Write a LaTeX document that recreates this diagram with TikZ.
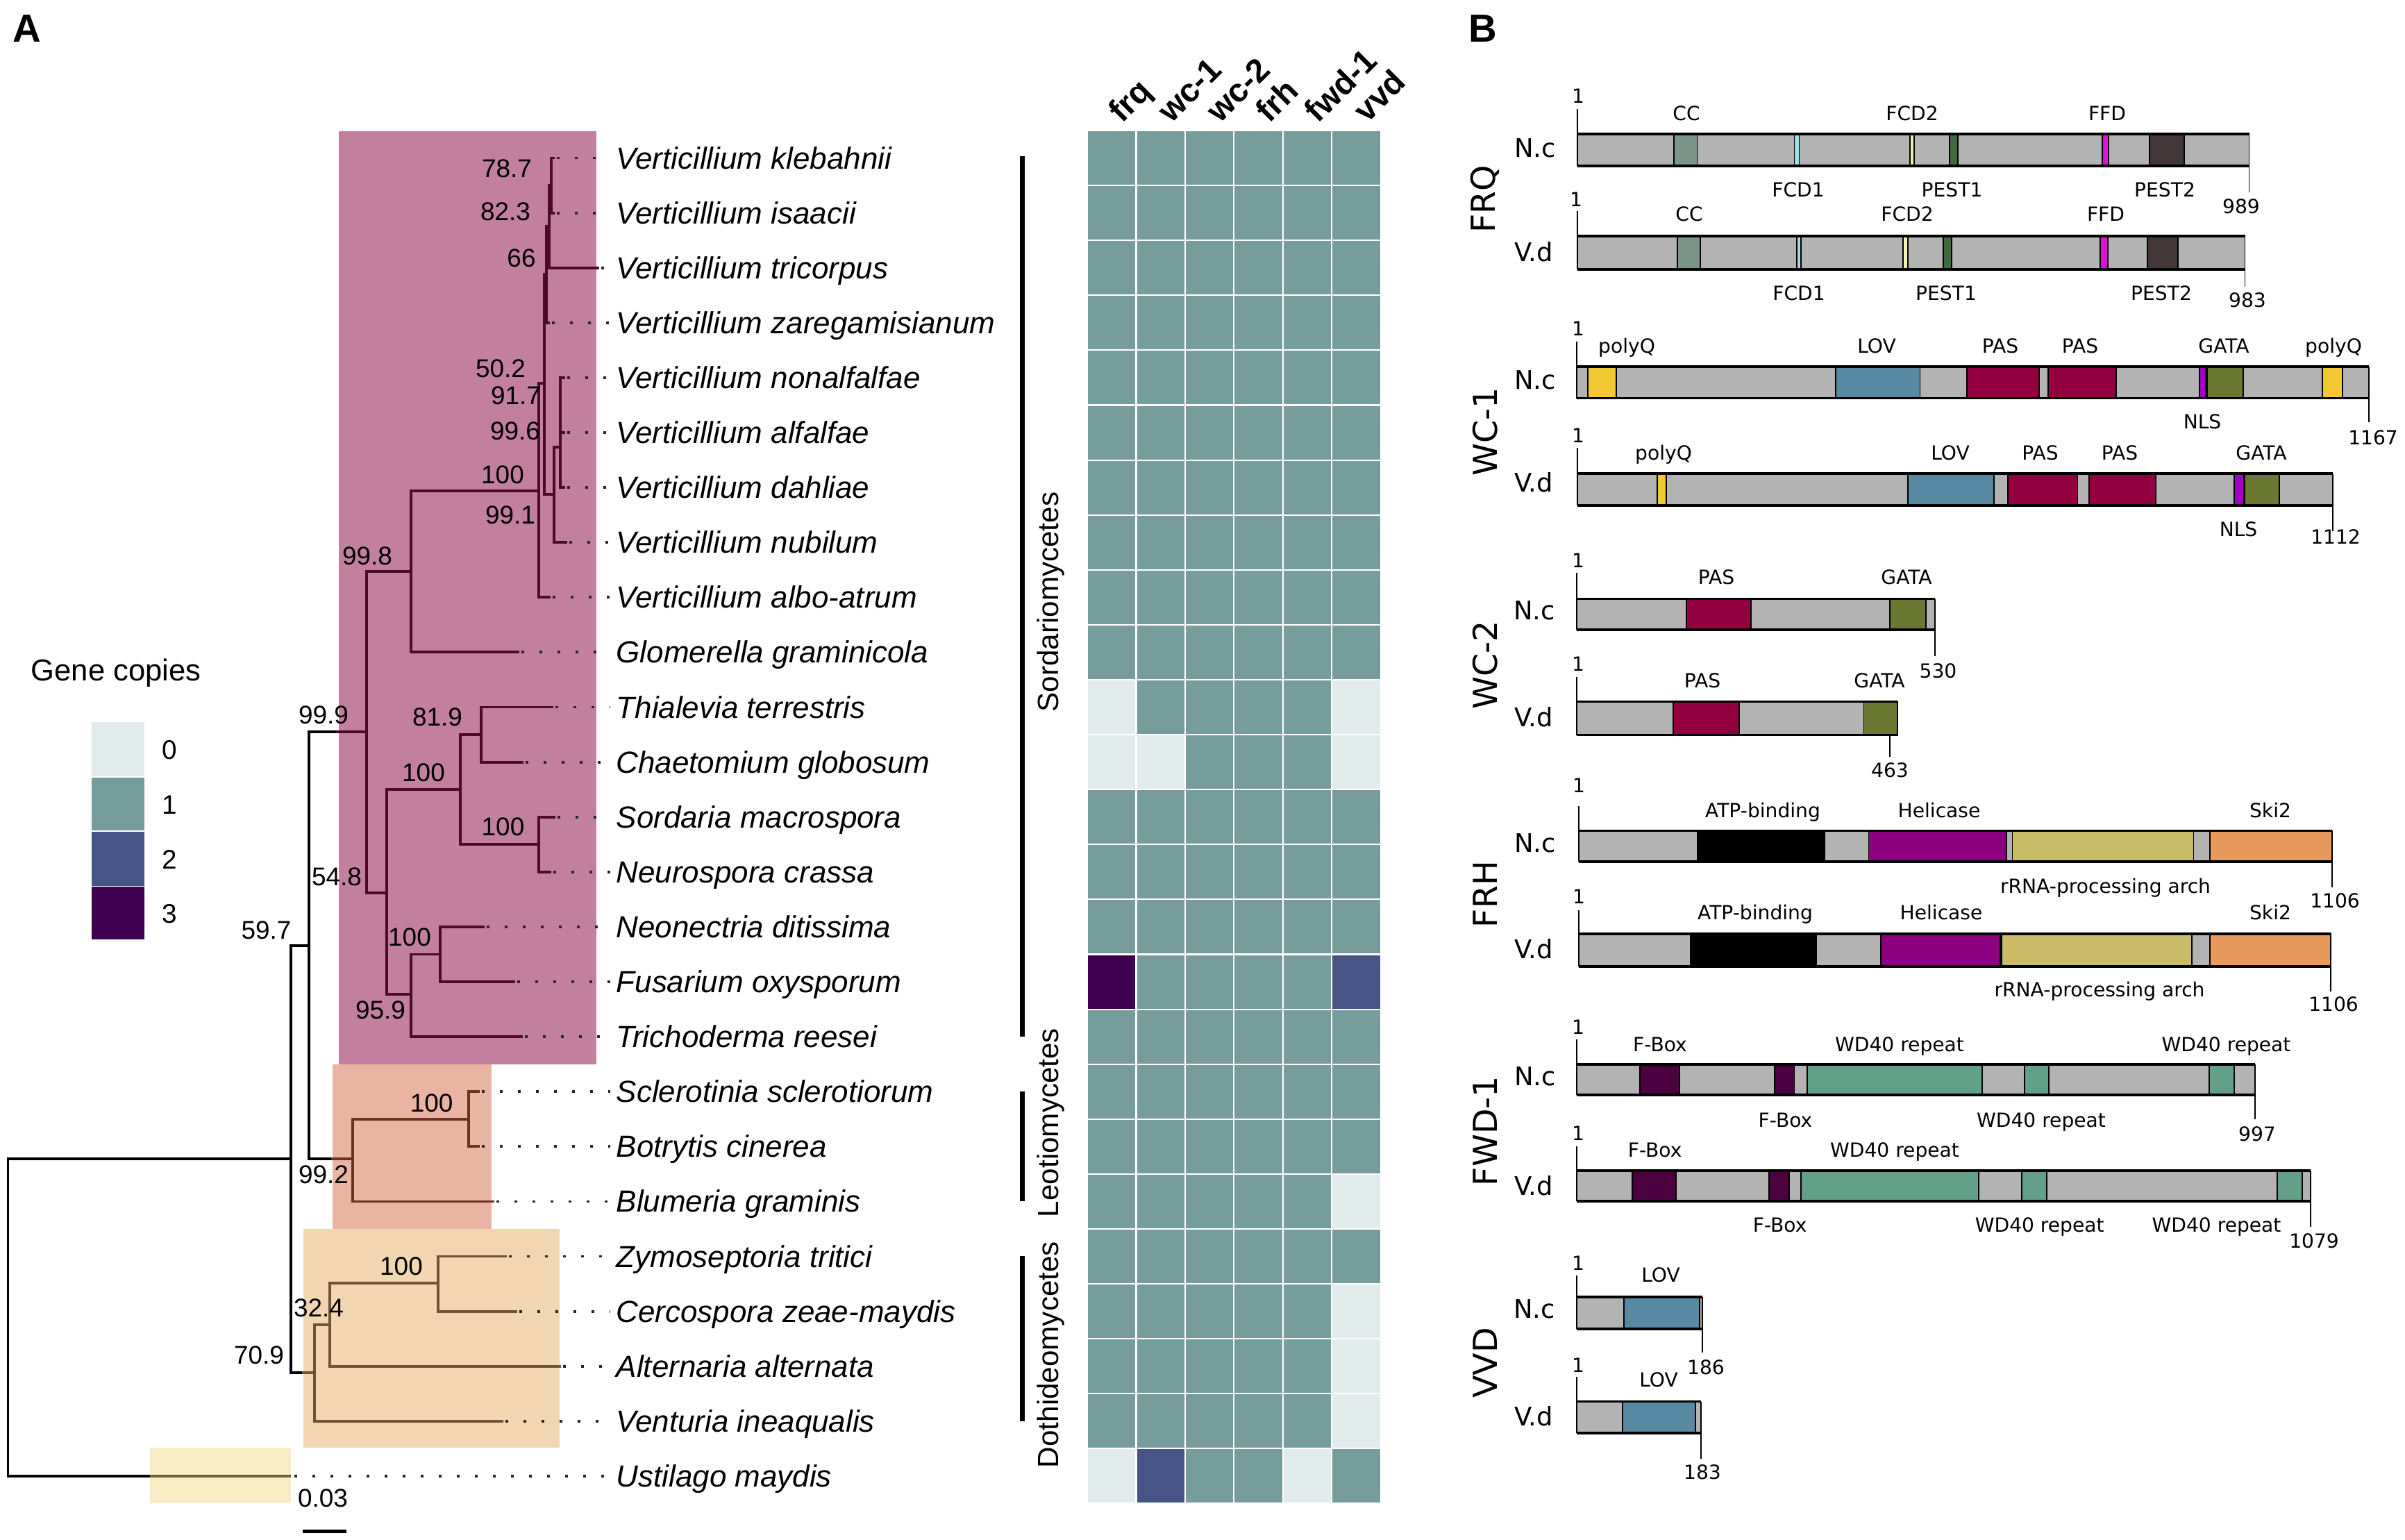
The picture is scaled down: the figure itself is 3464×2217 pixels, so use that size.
\documentclass[tikz,border=0pt]{standalone}
\usepackage{fontspec}
\setmainfont{Liberation Sans}
\newfontfamily\djv{DejaVu Sans}
\definecolor{pinkbox}{HTML}{C27F9E}
\definecolor{salmonbox}{HTML}{E9B5A2}
\definecolor{tanbox}{HTML}{F2D5B1}
\definecolor{yellowbox}{HTML}{FAEDC6}
\definecolor{csord}{HTML}{4B0A2A}
\definecolor{cleot}{HTML}{6B3222}
\definecolor{cdoth}{HTML}{6E5434}
\definecolor{custi}{HTML}{6E6232}
\definecolor{hm0}{HTML}{E3ECEC}
\definecolor{hm1}{HTML}{769D9C}
\definecolor{hm2}{HTML}{465486}
\definecolor{hm3}{HTML}{3E004F}
\definecolor{bargrey}{HTML}{B3B3B3}
\definecolor{dCC}{HTML}{7B958A}
\definecolor{dFCDa}{HTML}{9FDDE6}
\definecolor{dFCDb}{HTML}{EEF0B0}
\definecolor{dPESTa}{HTML}{3F6B3E}
\definecolor{dFFD}{HTML}{E010D8}
\definecolor{dPESTb}{HTML}{423639}
\definecolor{dQ}{HTML}{F2C833}
\definecolor{dLOV}{HTML}{5889A2}
\definecolor{dPAS}{HTML}{93003F}
\definecolor{dNLS}{HTML}{A300C8}
\definecolor{dGATA}{HTML}{6B7832}
\definecolor{dATP}{HTML}{000000}
\definecolor{dHel}{HTML}{8C007F}
\definecolor{dRNA}{HTML}{CABB68}
\definecolor{dSki}{HTML}{E89A5C}
\definecolor{dFB}{HTML}{4B0040}
\definecolor{dWD}{HTML}{62A089}
\newcounter{lbl}
\newcommand\plab[3]{\stepcounter{lbl}\node[plabel] (p\arabic{lbl}) at ({#1},{#2+10}) {#3};}
\newcommand\bnum[3]{\stepcounter{lbl}\node[bootlab] (b\arabic{lbl}) at ({#1},{#2+13}) {#3};}
\newcommand\orgl[3]{\stepcounter{lbl}\node[orglab] (o\arabic{lbl}) at ({#1},{#2+13.5}) {#3};}
\newcommand\protein[5]{%
 \fill[bargrey] ({#1},{#3}) rectangle ({#2},{#4});
 \foreach \da/\db/\dcol in {#5} {\filldraw[dombox,fill=\dcol] (\da,#3) rectangle (\db,#4);}
 \draw[thinedge] ({#1},{#3}) -- ({#1},{#4}) ({#2},{#3}) -- ({#2},{#4});
 \draw[thickedge] ({#1},{#3}) -- ({#2},{#3}) ({#1},{#4}) -- ({#2},{#4});
}
\begin{document}
\begin{tikzpicture}[x=0.01cm,y=-0.01cm,
  tk/.style={line width=1.1pt,line cap=rect,black},
  ts/.style={line width=1.1pt,line cap=rect,csord},
  tl/.style={line width=1.1pt,line cap=rect,cleot},
  td/.style={line width=1.1pt,line cap=rect,cdoth},
  dotline/.style={line width=1.1pt,black!85,dash pattern=on 1.1pt off 6.3pt},
  taxon/.style={anchor=base west,inner sep=0,font=\fontsize{12.5}{15}\selectfont\itshape},
  bootlab/.style={anchor=base,inner sep=0,font=\fontsize{10.5}{12}\selectfont},
  collab/.style={anchor=base west,inner sep=0,rotate=45,font=\fontsize{13.5}{16}\selectfont\bfseries},
  classlab/.style={rotate=90,inner sep=0,font=\fontsize{12}{14}\selectfont},
  plabel/.style={anchor=base,inner sep=0,font=\djv\fontsize{8}{9.6}\selectfont},
  orglab/.style={anchor=base,inner sep=0,font=\djv\fontsize{10.5}{12}\selectfont},
  grplab/.style={rotate=90,inner sep=0,font=\djv\fontsize{13.5}{16}\selectfont},
  dombox/.style={draw=black,line width=0.5pt},
  thinedge/.style={draw=black,line width=0.5pt},
  thickedge/.style={draw=black,line width=0.9pt},
  tickl/.style={draw=black,line width=0.5pt},
  panel/.style={inner sep=0,font=\fontsize{16}{18}\selectfont\bfseries}]
\useasboundingbox (0,0) rectangle (3464,2217);

% panel letters
\node[panel] (pA) at (39,41) {A};
\node[panel] (pB) at (2136,41) {B};

% clade boxes
\fill[pinkbox] (488,189) rectangle (859,1533);
\fill[salmonbox] (479,1533) rectangle (708,1770);
\fill[tanbox] (437,1770) rectangle (806,2085);
\fill[yellowbox] (216,2085) rectangle (419,2165);

% dotted leaders
\foreach \i/\t in {0/797,1/797,2/861,3/790,4/812,5/812,6/812,7/815,8/791,9/746,10/795,11/752,12/798,13/792,14/696,15/740,16/751,17/689,18/689,19/710,20/728,21/743,22/806,23/723,24/419}
  \draw[dotline] ({\t+5},{227.5+79.1*\i}) -- (879,{227.5+79.1*\i});

% backbone (black)
\draw[tk] (11.5,1669) -- (11.5,2125.9);
\draw[tk] (11.5,1669) -- (419,1669);
\draw[tk] (11.5,2125.9) -- (216,2125.9);
\draw[line width=1.1pt,custi] (216,2125.9) -- (419,2125.9);
\draw[tk] (419,1362) -- (419,1977);
\draw[tk] (419,1362) -- (445,1362);
\draw[tk] (445,1054) -- (445,1669);
\draw[tk] (445,1054) -- (488,1054);
\draw[tk] (445,1669) -- (479,1669);
\draw[tk] (419,1977) -- (437,1977);

% Sordariomycetes
\draw[ts] (486,1054) -- (528,1054);
\draw[ts] (528,823) -- (528,1286);
\draw[ts] (528,823) -- (592,823);
\draw[ts] (592,707) -- (592,939.4);
\draw[ts] (592,707) -- (776,707);
\draw[ts] (776,552) -- (776,860.3);
\draw[ts] (776,552) -- (784,552);
\draw[ts] (784,395) -- (784,712);
\draw[ts] (784,395) -- (787,395);
\draw[ts] (787,326) -- (787,464.8);
\draw[ts] (787,326) -- (791,326);
\draw[ts] (791,267) -- (791,385.7);
\draw[ts] (791,267) -- (794,267);
\draw[ts] (794,227.5) -- (794,306.6);
\draw[ts] (794,227.5) -- (797,227.5);
\draw[ts] (794,306.6) -- (797,306.6);
\draw[ts] (791,385.7) -- (861,385.7);
\draw[ts] (787,464.8) -- (790,464.8);
\draw[ts] (784,712) -- (798,712);
\draw[ts] (798,644) -- (798,781.2);
\draw[ts] (798,644) -- (807,644);
\draw[ts] (807,543.9) -- (807,702.1);
\draw[ts] (807,543.9) -- (812,543.9);
\draw[ts] (807,623) -- (812,623);
\draw[ts] (807,702.1) -- (812,702.1);
\draw[ts] (798,781.2) -- (815,781.2);
\draw[ts] (776,860.3) -- (791,860.3);
\draw[ts] (592,939.4) -- (746,939.4);
\draw[ts] (528,1286) -- (557,1286);
\draw[ts] (557,1137) -- (557,1432);
\draw[ts] (557,1137) -- (663,1137);
\draw[ts] (663,1058) -- (663,1216);
\draw[ts] (663,1058) -- (693,1058);
\draw[ts] (693,1018.5) -- (693,1097.6);
\draw[ts] (693,1018.5) -- (795,1018.5);
\draw[ts] (693,1097.6) -- (752,1097.6);
\draw[ts] (663,1216) -- (776,1216);
\draw[ts] (776,1176.7) -- (776,1255.8);
\draw[ts] (776,1176.7) -- (798,1176.7);
\draw[ts] (776,1255.8) -- (792,1255.8);
\draw[ts] (557,1432) -- (592,1432);
\draw[ts] (592,1374.5) -- (592,1493.1);
\draw[ts] (592,1374.5) -- (634,1374.5);
\draw[ts] (634,1334.9) -- (634,1414);
\draw[ts] (634,1334.9) -- (696,1334.9);
\draw[ts] (634,1414) -- (740,1414);
\draw[ts] (592,1493.1) -- (751,1493.1);

% Leotiomycetes
\draw[tl] (479,1669) -- (508,1669);
\draw[tl] (508,1612) -- (508,1730.4);
\draw[tl] (508,1612) -- (675,1612);
\draw[tl] (675,1572.2) -- (675,1651.3);
\draw[tl] (675,1572.2) -- (689,1572.2);
\draw[tl] (675,1651.3) -- (689,1651.3);
\draw[tl] (508,1730.4) -- (710,1730.4);

% Dothideomycetes
\draw[td] (437,1977) -- (453,1977);
\draw[td] (453,1908) -- (453,2046.8);
\draw[td] (453,1908) -- (475,1908);
\draw[td] (475,1848) -- (475,1967.7);
\draw[td] (475,1848) -- (631,1848);
\draw[td] (631,1809.5) -- (631,1888.6);
\draw[td] (631,1809.5) -- (728,1809.5);
\draw[td] (631,1888.6) -- (743,1888.6);
\draw[td] (475,1967.7) -- (806,1967.7);
\draw[td] (453,2046.8) -- (723,2046.8);

% bootstrap values
\bnum{730}{242}{78.7}
\bnum{728}{304}{82.3}
\bnum{751}{371}{66}
\bnum{721}{530}{50.2}
\bnum{743}{569}{91.7}
\bnum{742}{620}{99.6}
\bnum{724}{683}{100}
\bnum{735}{741}{99.1}
\bnum{529}{800}{99.8}
\bnum{466}{1029.5}{99.9}
\bnum{630}{1032.6}{81.9}
\bnum{610}{1112.6}{100}
\bnum{724.5}{1190}{100}
\bnum{485}{1262}{54.8}
\bnum{383.5}{1339}{59.7}
\bnum{590}{1349}{100}
\bnum{548}{1454}{95.9}
\bnum{621.7}{1588}{100}
\bnum{466}{1691}{99.2}
\bnum{578}{1823}{100}
\bnum{459}{1883}{32.4}
\bnum{373}{1951}{70.9}
\bnum{465}{2157}{0.03}
\draw[line width=1.4pt] (436,2205) -- (499,2205);

% taxa
\foreach \i/\nm in {0/Verticillium klebahnii,1/Verticillium isaacii,2/Verticillium tricorpus,3/Verticillium zaregamisianum,4/Verticillium nonalfalfae,5/Verticillium alfalfae,6/Verticillium dahliae,7/Verticillium nubilum,8/Verticillium albo-atrum,9/Glomerella graminicola,10/Thialevia terrestris,11/Chaetomium globosum,12/Sordaria macrospora,13/Neurospora crassa,14/Neonectria ditissima,15/Fusarium oxysporum,16/Trichoderma reesei,17/Sclerotinia sclerotiorum,18/Botrytis cinerea,19/Blumeria graminis,20/Zymoseptoria tritici,21/Cercospora zeae-maydis,22/Alternaria alternata,23/Venturia ineaqualis,24/Ustilago maydis}
  \node[taxon] (t\i) at (887,{227.5+79.1*\i+15.5}) {\nm};

% legend
\node[anchor=base west,inner sep=0,font=\fontsize{12.4}{15}\selectfont] (leg) at (44,980) {Gene copies};
\foreach \v/\ya/\yb in {0/1040/1118,1/1120/1196,2/1198/1276,3/1277/1353}{
  \fill[hm\v] (132,\ya) rectangle (208,\yb);
  \node[anchor=base,inner sep=0,font=\fontsize{11}{13}\selectfont] (lg\v) at (244,{(\ya+\yb)/2+14}) {\v};
}

% class bars
\draw[line width=2pt] (1472,225) -- (1472,1493);
\draw[line width=2pt] (1472,1572) -- (1472,1730);
\draw[line width=2pt] (1472,1809) -- (1472,2047);
\node[classlab] (cS) at (1514,867) {Sordariomycetes};
\node[classlab] (cL) at (1514,1617) {Leotiomycetes};
\node[classlab] (cD) at (1514,1951) {Dothideomycetes};

% heatmap
\foreach \r/\va/\vb/\vc/\vd/\ve/\vf in {0/1/1/1/1/1/1,1/1/1/1/1/1/1,2/1/1/1/1/1/1,3/1/1/1/1/1/1,4/1/1/1/1/1/1,5/1/1/1/1/1/1,6/1/1/1/1/1/1,7/1/1/1/1/1/1,8/1/1/1/1/1/1,9/1/1/1/1/1/1,10/0/1/1/1/1/0,11/0/0/1/1/1/0,12/1/1/1/1/1/1,13/1/1/1/1/1/1,14/1/1/1/1/1/1,15/3/1/1/1/1/2,16/1/1/1/1/1/1,17/1/1/1/1/1/1,18/1/1/1/1/1/1,19/1/1/1/1/1/0,20/1/1/1/1/1/1,21/1/1/1/1/1/0,22/1/1/1/1/1/0,23/1/1/1/1/1/0,24/0/2/1/1/0/1}{
  \foreach \v [count=\k from 0] in {\va,\vb,\vc,\vd,\ve,\vf}{
    \filldraw[fill=hm\v,draw=white,line width=0.6pt] ({1566+70.47*\k},{188+79.1*\r}) rectangle ++(70.47,79.1);
  }
}
\foreach \k/\g in {0/frq,1/wc-1,2/wc-2,3/frh,4/fwd-1,5/vvd}
  \node[collab] (g\k) at ({1616+70.6*\k},179) {\g};

% ===== Panel B =====
\node[grplab] (gFRQ) at (2139,287) {FRQ};
\node[grplab] (gWC1) at (2139,622) {WC-1};
\node[grplab] (gWC2) at (2139,958) {WC-2};
\node[grplab] (gFRH) at (2139,1288) {FRH};
\node[grplab] (gFWD) at (2139,1629) {FWD-1};
\node[grplab] (gVVD) at (2139,1963) {VVD};

% FRQ
\orgl{2211}{213}{N.c}
\draw[tickl] (2272,157) -- (2272,193);
\draw[tickl] (3239.5,239) -- (3239.5,277);
\protein{2272}{3239.5}{193}{239}{2411/2444.5/dCC,2584.5/2591.5/dFCDa,2750.6/2756.7/dFCDb,2808/2820/dPESTa,3028/3037/dFFD,3096/3145.6/dPESTb}
\plab{2273}{138}{1}
\plab{2429}{163}{CC}
\plab{2754}{163}{FCD2}
\plab{3035}{163}{FFD}
\plab{2590}{273}{FCD1}
\plab{2811.5}{273}{PEST1}
\plab{3118}{273}{PEST2}
\plab{3228}{297}{989}

\orgl{2209}{363}{V.d}
\draw[tickl] (2272,304) -- (2272,340);
\draw[tickl] (3233.5,388) -- (3233.5,413);
\protein{2272}{3233.5}{340}{388}{2416/2449/dCC,2588/2594/dFCDa,2741/2748/dFCDb,2799/2811/dPESTa,3025/3036/dFFD,3093/3137/dPESTb}
\plab{2270}{287}{1}
\plab{2433}{308}{CC}
\plab{2747}{308}{FCD2}
\plab{3033}{308}{FFD}
\plab{2591}{422}{FCD1}
\plab{2803}{422}{PEST1}
\plab{3113}{422}{PEST2}
\plab{3237}{432}{983}

% WC-1
\orgl{2211}{547}{N.c}
\draw[tickl] (2271,491.5) -- (2271,528);
\draw[tickl] (3412,573.5) -- (3412,607.5);
\protein{2271}{3412}{528}{573.5}{2287/2328/dQ,2644/2765.5/dLOV,2833/2937/dPAS,2950/3048/dPAS,3168/3177/dNLS,3179/3231/dGATA,3345/3374/dQ}
\plab{2273}{473}{1}
\plab{2343}{498}{polyQ}
\plab{2703}{498}{LOV}
\plab{2881}{498}{PAS}
\plab{2996}{498}{PAS}
\plab{3203}{498}{GATA}
\plab{3361}{498}{polyQ}
\plab{3172}{607.5}{NLS}
\plab{3418}{630}{1167}

\orgl{2209}{694.6}{V.d}
\draw[tickl] (2272,645) -- (2272,682);
\draw[tickl] (3360,728) -- (3360,765);
\protein{2272}{3360}{682}{728}{2387/2400/dQ,2748/2872/dLOV,2891.6/2992.5/dPAS,3009/3104.7/dPAS,3218/3232/dNLS,3232.6/3283/dGATA}
\plab{2273}{627}{1}
\plab{2396}{652}{polyQ}
\plab{2809}{652}{LOV}
\plab{2938.5}{652}{PAS}
\plab{3053}{652}{PAS}
\plab{3257}{652}{GATA}
\plab{3224}{762}{NLS}
\plab{3364}{773}{1112}

% WC-2
\orgl{2210}{879}{N.c}
\draw[tickl] (2271,825) -- (2271,862.5);
\draw[tickl] (2787,907) -- (2787,945);
\protein{2271}{2787}{862.5}{907}{2429/2522/dPAS,2722/2774/dGATA}
\plab{2273}{807}{1}
\plab{2472}{831}{PAS}
\plab{2746}{831}{GATA}
\plab{2791.5}{966}{530}

\orgl{2209}{1032.5}{V.d}
\draw[tickl] (2271,974.5) -- (2271,1010.5);
\draw[tickl] (2722,1058.6) -- (2722,1090);
\protein{2271}{2733}{1010.5}{1058.6}{2410/2505/dPAS,2684.5/2733/dGATA}
\plab{2273}{956.6}{1}
\plab{2452}{980}{PAS}
\plab{2707}{980}{GATA}
\plab{2722}{1109.6}{463}

% FRH
\orgl{2211}{1214.4}{N.c}
\draw[tickl] (2274,1161) -- (2274,1196.6);
\draw[tickl] (3359,1241) -- (3359,1277.7);
\protein{2274}{3359}{1196.6}{1241}{2445/2628/dATP,2691.5/2890/dHel,2898.5/3159.5/dRNA,3183/3359/dSki}
\plab{2274}{1131}{1}
\plab{2539}{1167}{ATP-binding}
\plab{2793}{1167}{Helicase}
\plab{3270}{1167}{Ski2}
\plab{3032.5}{1276}{rRNA-processing arch}
\plab{3363}{1297.5}{1106}

\orgl{2209}{1366.7}{V.d}
\draw[tickl] (2274,1311) -- (2274,1345);
\draw[tickl] (3357,1392) -- (3357,1428);
\protein{2274}{3357}{1345}{1392}{2435/2616/dATP,2709/2881/dHel,2883/3157/dRNA,3183/3357/dSki}
\plab{2274}{1291.5}{1}
\plab{2528}{1314}{ATP-binding}
\plab{2796}{1314}{Helicase}
\plab{3270}{1314}{Ski2}
\plab{3024}{1425}{rRNA-processing arch}
\plab{3361}{1446}{1106}

% FWD-1
\orgl{2211}{1550}{N.c}
\draw[tickl] (2271,1496.5) -- (2271,1533);
\draw[tickl] (3248,1577) -- (3248,1611.5);
\protein{2271}{3248}{1533}{1577}{2362/2419/dFB,2556/2584.5/dFB,2603/2855/dWD,2916/2951/dWD,3182/3218/dWD}
\plab{2273}{1479}{1}
\plab{2391}{1504}{F-Box}
\plab{2736}{1504}{WD40 repeat}
\plab{3206.5}{1504}{WD40 repeat}
\plab{2571.5}{1613}{F-Box}
\plab{2940}{1613}{WD40 repeat}
\plab{3251}{1633.5}{997}

\orgl{2209}{1708}{V.d}
\draw[tickl] (2271,1650.6) -- (2271,1686);
\draw[tickl] (3328,1730) -- (3328,1767);
\protein{2271}{3328}{1686}{1730}{2351/2414/dFB,2548/2577/dFB,2594/2850/dWD,2912/2948/dWD,3280/3316/dWD}
\plab{2273}{1632}{1}
\plab{2383.6}{1656.5}{F-Box}
\plab{2729}{1656.5}{WD40 repeat}
\plab{2563.6}{1764.6}{F-Box}
\plab{2937.7}{1764.6}{WD40 repeat}
\plab{3192.5}{1764.6}{WD40 repeat}
\plab{3333}{1787.6}{1079}

% VVD
\orgl{2210}{1885.4}{N.c}
\draw[tickl] (2271,1836.5) -- (2271,1868);
\draw[tickl] (2452,1914) -- (2452,1948);
\protein{2271}{2452}{1868}{1914}{2339/2448/dLOV}
\plab{2273}{1819}{1}
\plab{2392}{1836.5}{LOV}
\plab{2457}{1969.6}{186}

\orgl{2209}{2039.5}{V.d}
\draw[tickl] (2271,1983) -- (2271,2018.5);
\draw[tickl] (2449.7,2064) -- (2449.7,2100.7);
\protein{2271}{2449.7}{2018.5}{2064}{2336.6/2442/dLOV}
\plab{2273}{1966}{1}
\plab{2389}{1987}{LOV}
\plab{2452}{2120}{183}

\end{tikzpicture}
\end{document}
